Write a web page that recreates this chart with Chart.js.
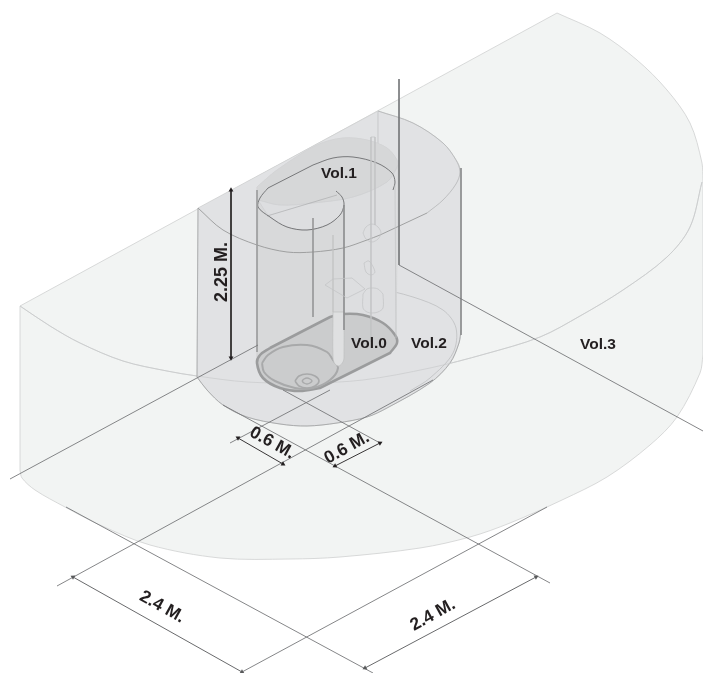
<!DOCTYPE html>
<html>
<head>
<meta charset="utf-8">
<style>html,body{margin:0;padding:0;background:#fff}canvas{display:block}</style>
<script src="https://cdn.jsdelivr.net/npm/chart.js@4"></script>
</head>
<body>
<canvas id="c" width="703" height="673"></canvas>
<script>
// Outlines, [x, y] in drawing units. A repeated point is a sharp corner.
const vol3Outline = [[557,13],[557,13],[600,33],[637,60],[667,90],[690,123],[702,163],[703,180],[703,180],[703,355],[703,355],[700,373],[677,417],[650,445],[607,477],[562,500],[510,523],[470,537],[420,548],[340,557],[290,559],[220,558],[150,545],[100,525],[65,507],[35,490],[22,478],[20,470],[20,470],[20,306],[20,306],[557,13]];
const vol3TopArc = [[20,306],[50,326],[80,343],[123,361],[167,371],[197,376],[247,382],[307,383],[363,380],[430,368],[485,354],[540,337],[580,316],[623,290],[667,257],[690,227],[702,182]];
const vol2Outline = [[198,208],[198,208],[378,111],[378,111],[413,123],[443,143],[458,163],[461,172],[461,172],[461,330],[461,330],[459,343],[450,363],[430,383],[387,408],[367,417],[337,423],[307,426],[280,424],[247,417],[223,405],[207,390],[197,377],[197,377],[198,208]];
const vol2Bottom = [[461,330],[459,343],[450,363],[430,383],[387,408],[367,417],[337,423],[307,426],[280,424],[247,417],[223,405],[207,390],[197,377]];
const vol2RimFront = [[198,208],[223,230],[257,245],[287,252],[313,252],[343,248],[367,240],[380,235]];
const vol2RimStraight = [[380,235],[427,213]];
const vol2RimRight = [[427,213],[443,200],[456,184],[460,172],[456,160],[443,143],[413,123],[378,111]];
const vol2FloorArc = [[373,287],[413,297],[443,310],[456,328],[453,353],[430,378],[410,391]];
const vol2Left = [[198,208],[197,377]];
const vol2Right = [[461,168],[461,335]];
const vol2BackPost = [[378,111],[378,280]];
const vol1Body = [[257,187],[257,187],[277,170],[317,145],[343,138],[367,140],[387,148],[397,160],[398,167],[398,167],[396,340],[396,340],[257,363],[257,363],[257,187]];
const vol1Cap = [[257,187],[257,187],[277,170],[317,145],[343,138],[367,140],[387,148],[397,160],[398,167],[398,167],[387,182],[353,197],[313,203],[280,205],[258,200],[258,200],[257,187]];
const vol1Front = [[258,200],[258,200],[270,217],[287,227],[307,230],[327,225],[340,215],[344,205],[344,205],[344,335],[344,335],[257,363],[257,363],[258,200]];
const vol1RimBack = [[393,190],[395,182],[392,173],[377,163],[353,157],[333,158],[313,165]];
const vol1RimStraight = [[313,165],[268,188]];
const vol1RimFront = [[268,188],[260,198],[258,207],[270,217],[287,227],[307,230],[327,225],[340,215],[344,205],[342,197],[336,191]];
const vol1Chord = [[267,216],[337,195]];
const vol1HiddenArc = [[258,200],[280,205],[313,203],[353,197],[387,182],[398,165]];
const vol1WallLeft = [[257,190],[257,352]];
const vol1WallPipe = [[344,205],[344,330]];
const vol1WallRight = [[395,185],[396,338]];
const vol0Outline = [[270,348],[270,348],[330,317],[330,317],[343,314],[363,315],[383,323],[395,335],[397,343],[390,353],[390,353],[320,388],[320,388],[300,391],[280,388],[263,378],[257,363],[260,355],[270,348]];
const vol0Ring = [[262,363],[268,355],[283,347],[307,345],[327,352],[333,360],[338,368],[330,380],[313,388],[295,388],[275,381],[264,372],[262,363]];
const drainOuter = [[295,381],[299,376],[307,374],[315,376],[319,381],[315,386],[307,388],[299,386],[295,381]];
const drainInner = [[302,381],[304,379],[307,378],[310,379],[312,381],[310,383],[307,384],[304,383],[302,381]];
const pipeBar = [[333,312],[333,312],[333,358],[335,364],[339,366],[343,362],[344,358],[344,312],[344,312],[333,312]];
const pipeGuide = [[333,235],[333,312]];
const rodLeft = [[371,137],[371,342]];
const rodRight = [[375,137],[375,225]];
const rodTop = [[371,137],[375,137]];
const floatCircle = [[363,233],[366,227],[372,224],[378,227],[381,233],[378,239],[372,242],[366,239],[363,233]];
const vesselBody = [[363,294],[363,294],[363,308],[367,312],[372,313],[378,312],[383,308],[383,294],[383,294],[378,289],[372,288],[367,289],[363,294]];
const smallShape = [[364,263],[364,263],[369,261],[375,272],[371,275],[366,272],[364,263]];
const plateShape = [[325,285],[325,285],[333,279],[333,279],[352,278],[365,289],[365,289],[347,298],[347,298],[325,285]];
const postMid = [[313,218],[313,317]];
const wallCornerA = [[399,79],[399,265]];
const wallCornerB = [[399,265],[703,431]];
const axisLeft = [[10,479],[258,345]];
const guideA = [[230,443],[330,390]];
const guideB = [[57,586],[433,380]];
const guideC = [[242,672],[547,507]];
const guideD = [[223,405],[550,583]];
const guideE = [[283,390],[380,443]];
const guideF = [[66,507],[373,673]];
const heightArrow = [[231,190],[231,358]];
const dimLeft06 = [[238,438],[283,464]];
const dimRight06 = [[335,466],[380,443]];
const dimLeft24 = [[73,577],[242,672]];
const dimRight24 = [[365,668],[536,577]];

// Text
const labelTexts = ['Vol.0','Vol.1','Vol.2','Vol.3','2.25 M.','0.6 M.','0.6 M.','2.4 M.','2.4 M.'];
const labelX = [369,339,429,598,222,272,347,162,433];
const labelY = [344,174,344,345,272,443,448,607,615];
const labelAngle = [0,0,0,0,-90,29,-29,29,-29];
const labelSize = [15.5,15.5,15.5,15.5,18,17.5,17.5,17.5,17.5];

const SMOOTH = 0.33;
const AXIS = '#77787a', RIM = '#8f9091', SOFT = '#c2c3c4', GHOST = '#cfd0d1';
function layer(points, o) {
  return Object.assign({
    data: points.map(p => ({x: p[0], y: p[1]})),
    showLine: true, pointRadius: 0, borderColor: AXIS, borderWidth: 0.9,
    tension: 0, fill: false, clip: false
  }, o || {});
}
function curve(points, color, width) {
  return layer(points, {borderColor: color, borderWidth: width, tension: SMOOTH});
}
function filled(points, color, line, width) {
  return layer(points, {fill: 'shape', backgroundColor: color, borderColor: line, borderWidth: width, tension: SMOOTH});
}
function arrow(points, color) {
  const [a, b] = points;
  const deg = Math.atan2(b[1] - a[1], b[0] - a[0]) * 180 / Math.PI;
  return layer(points, {pointStyle: 'triangle', pointRadius: 2.8, pointRotation: [deg - 90, deg + 90],
    pointBackgroundColor: color, pointBorderColor: color, pointBorderWidth: 0, borderColor: color});
}
const layers = [
  filled(vol3Outline, '#f2f4f3', '#cfd1d1', 0.8),
  curve(vol3TopArc, '#d0d2d2', 0.9),
  filled(vol2Outline, '#e1e2e4', '#cdcecf', 0.7),
  curve(vol2Bottom, '#a0a1a2', 0.8),
  curve(vol2FloorArc, '#b9babb', 0.7),
  layer(vol2BackPost, {borderColor: '#d0d1d2', borderWidth: 0.7}),
  filled(vol1Body, '#dddee0', '#d0d1d2', 0.6),
  filled(vol1Cap, '#d6d7d8', '#d0d1d2', 0.5),
  filled(vol1Front, '#d8d9da', '#c8c9ca', 0.5),
  curve(vol3TopArc, '#c9cacb', 0.7),
  curve(vol2RimFront, RIM, 0.8),
  layer(vol2RimStraight, {borderColor: RIM, borderWidth: 0.8}),
  curve(vol2RimRight, '#b4b5b6', 0.8),
  layer(vol2Left, {borderColor: '#a5a6a7', borderWidth: 0.8}),
  layer(vol2Right, {borderColor: RIM, borderWidth: 1}),
  filled(vol0Outline, '#cbcccd', '#9b9c9d', 2.6),
  curve(vol0Ring, '#a8a9aa', 2),
  curve(drainOuter, '#a8a9aa', 1.6),
  curve(drainInner, '#a8a9aa', 1.4),
  curve(vol1HiddenArc, GHOST, 0.6),
  layer(vol1Chord, {borderColor: '#a5a6a7', borderWidth: 0.6}),
  curve(vol1RimBack, '#77787a', 1),
  layer(vol1RimStraight, {borderColor: '#77787a', borderWidth: 1}),
  curve(vol1RimFront, '#77787a', 1),
  layer(vol1WallLeft, {borderColor: '#9c9d9e', borderWidth: 0.9}),
  layer(vol1WallRight, {borderColor: SOFT, borderWidth: 0.7}),
  filled(pipeBar, '#dfe0e1', '#bdbebf', 0.7),
  layer(pipeGuide, {borderColor: SOFT, borderWidth: 0.6}),
  layer(vol1WallPipe, {borderColor: '#8f9091', borderWidth: 0.9}),
  layer(postMid, {borderColor: '#8f9091', borderWidth: 0.7}),
  layer(rodLeft, {borderColor: SOFT, borderWidth: 0.7}),
  layer(rodRight, {borderColor: SOFT, borderWidth: 0.7}),
  layer(rodTop, {borderColor: SOFT, borderWidth: 0.7}),
  curve(floatCircle, SOFT, 0.7),
  curve(vesselBody, SOFT, 0.7),
  curve(smallShape, SOFT, 0.7),
  layer(plateShape, {borderColor: SOFT, borderWidth: 0.7}),
  layer(wallCornerA),
  layer(wallCornerB),
  layer(axisLeft),
  layer(guideA),
  layer(guideB),
  layer(guideC),
  layer(guideD),
  layer(guideE),
  layer(guideF),
  arrow(heightArrow, '#231f20'),
  arrow(dimLeft06, '#231f20'),
  arrow(dimRight06, '#231f20'),
  arrow(dimLeft24, '#58595b'),
  arrow(dimRight24, '#58595b')
];
layers.forEach((d, i) => { d.order = layers.length - i; });

const textPlugin = {
  id: 'drawingText',
  afterDatasetsDraw(chart) {
    const {ctx, scales: {x, y}} = chart;
    ctx.save();
    ctx.fillStyle = '#231f20';
    ctx.textAlign = 'center';
    ctx.textBaseline = 'middle';
    labelTexts.forEach((t, i) => {
      ctx.save();
      ctx.translate(x.getPixelForValue(labelX[i]), y.getPixelForValue(labelY[i]));
      ctx.rotate(labelAngle[i] * Math.PI / 180);
      ctx.font = 'bold ' + labelSize[i] + 'px "Liberation Sans", Arial, sans-serif';
      ctx.fillText(t, 0, 0);
      ctx.restore();
    });
    ctx.restore();
  }
};

new Chart(document.getElementById('c'), {
  type: 'scatter',
  data: {datasets: layers},
  plugins: [textPlugin],
  options: {
    responsive: false,
    animation: false,
    devicePixelRatio: 1,
    layout: {padding: 0, autoPadding: false},
    plugins: {legend: {display: false}, title: {display: false}, tooltip: {enabled: false}},
    scales: {
      x: {type: 'linear', display: false, min: 0, max: 703},
      y: {type: 'linear', display: false, min: 0, max: 673, reverse: true}
    }
  }
});
</script>
</body>
</html>
